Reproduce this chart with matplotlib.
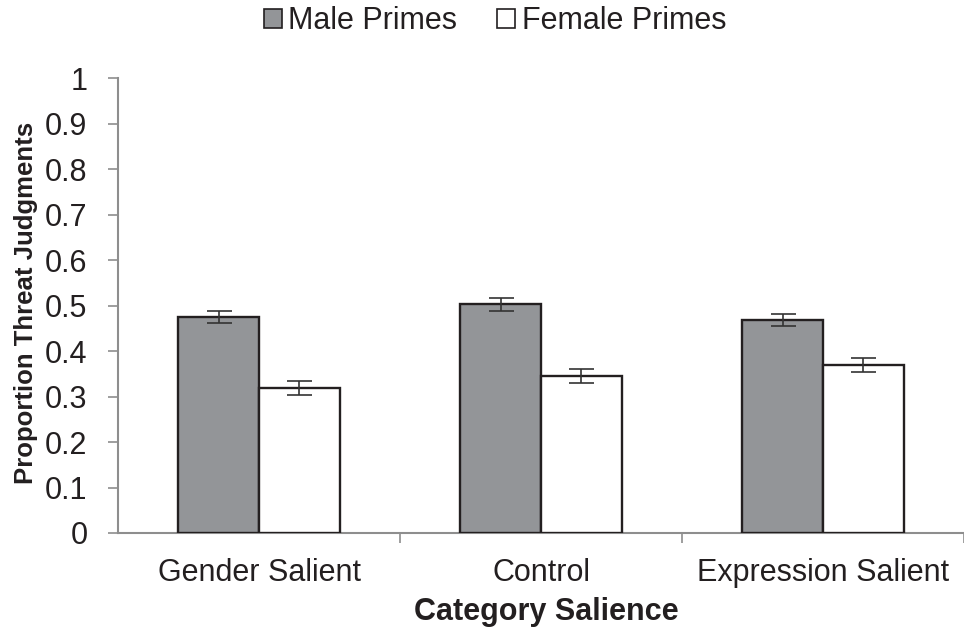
import matplotlib
matplotlib.use("Agg")
import matplotlib.pyplot as plt
from matplotlib.patches import Patch
import numpy as np

categories = ["Gender Salient", "Control", "Expression Salient"]
male = [0.475, 0.503, 0.468]
female = [0.319, 0.345, 0.369]
male_err = [0.014, 0.014, 0.013]
female_err = [0.016, 0.015, 0.016]
series_names = ["Male Primes", "Female Primes"]
yticks = [0, 0.1, 0.2, 0.3, 0.4, 0.5, 0.6, 0.7, 0.8, 0.9, 1]
ytick_labels = ["0", "0.1", "0.2", "0.3", "0.4", "0.5", "0.6", "0.7", "0.8", "0.9", "1"]

plt.rcParams['font.family'] = ['Liberation Sans', 'DejaVu Sans']
TXT = "#231f20"
EDGE = "#231f20"
GRAY = "#939598"
SPINE = "#8e8e8e"

W, H = 964, 632
fig = plt.figure(figsize=(W / 100, H / 100), dpi=100)
left_px, right_px, bottom_px, top_px = 118, 964, 533, 78
ax = fig.add_axes([left_px / W, 1 - bottom_px / H, (right_px - left_px) / W, (bottom_px - top_px) / H])

x = np.arange(len(categories))
bw = 0.287
ax.bar(x - bw / 2, male, bw, color=GRAY, edgecolor=EDGE, linewidth=1.7, zorder=2)
ax.bar(x + bw / 2, female, bw, color="white", edgecolor=EDGE, linewidth=1.7, zorder=2)
ax.errorbar(x - bw / 2, male, yerr=male_err, fmt="none", ecolor="#333333", elinewidth=1.2, capsize=9, capthick=1.2, zorder=3)
ax.errorbar(x + bw / 2, female, yerr=female_err, fmt="none", ecolor="#333333", elinewidth=1.2, capsize=9, capthick=1.2, zorder=3)

cat_px = 285.5
ax.set_xlim(-0.5, -0.5 + (right_px - left_px) / cat_px)
ax.set_ylim(0, 1)

for s in ["top", "right"]:
    ax.spines[s].set_visible(False)
for s in ["left", "bottom"]:
    ax.spines[s].set_color(SPINE)
    ax.spines[s].set_linewidth(1.5)
    ax.spines[s].set_zorder(1)

ax.set_yticks(yticks)
ax.set_yticklabels(ytick_labels)
ax.tick_params(axis="y", direction="out", length=7, width=1.2, color=SPINE, pad=15, labelsize=22, labelcolor=TXT)

ax.set_xticks(x)
ax.set_xticklabels(categories)
ax.tick_params(axis="x", which="major", length=0, pad=18, labelsize=22, labelcolor=TXT)
ax.set_xticks([0.5, 1.5, 2.5], minor=True)
ax.tick_params(axis="x", which="minor", direction="out", length=7, width=1.2, color=SPINE)

fig.text(546 / W, 1 - 612 / H, "Category Salience", ha="center", va="center", fontsize=22, fontweight="bold", color=TXT)
fig.text(26 / W, 1 - 303 / H, "Proportion Threat Judgments", ha="center", va="center", rotation=90, fontsize=18.5, fontweight="bold", color=TXT)

handles = [Patch(facecolor=GRAY, edgecolor=EDGE, linewidth=1.2, label=series_names[0]),
           Patch(facecolor="white", edgecolor=EDGE, linewidth=1.2, label=series_names[1])]
fig.legend(handles=handles, loc="center", bbox_to_anchor=(495 / W, 1 - 21 / H), ncol=2, frameon=False,
           fontsize=22, handlelength=0.6, handleheight=0.6, handletextpad=0.2, columnspacing=1.3,
           labelcolor=TXT, borderpad=0)

fig.savefig("out.png", dpi=100)
